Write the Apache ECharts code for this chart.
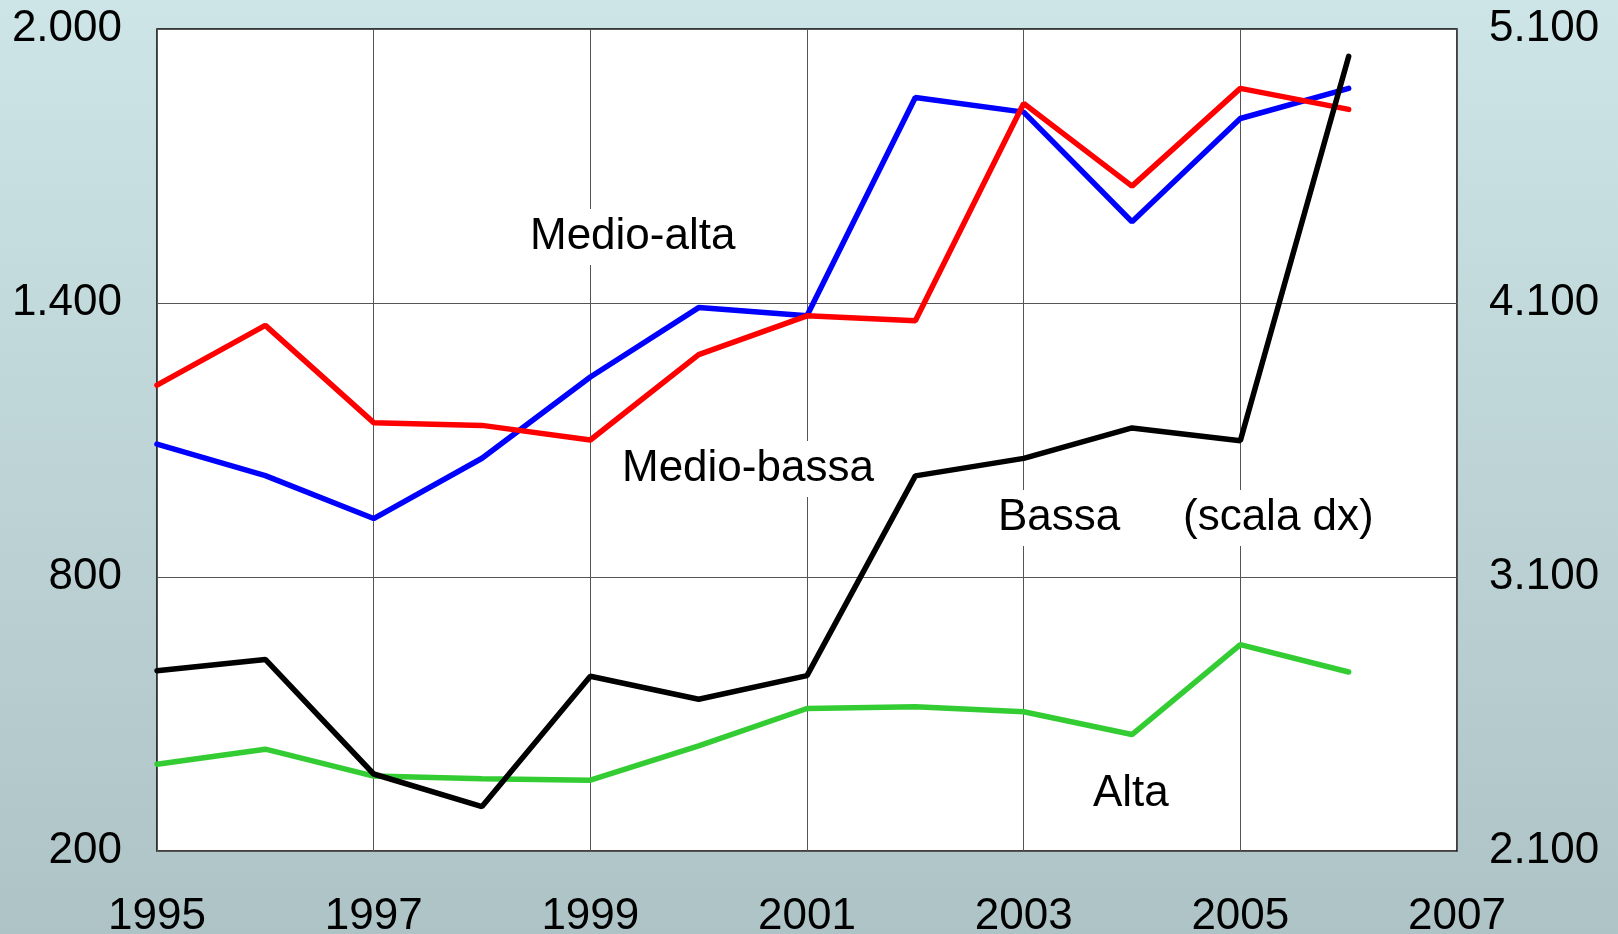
<!DOCTYPE html>
<html>
<head>
<meta charset="utf-8">
<script src="https://cdn.jsdelivr.net/npm/echarts@6/dist/echarts.min.js"></script>
<style>
html,body{margin:0;padding:0;width:1618px;height:934px;overflow:hidden;
background:linear-gradient(to bottom,#cde5e6 0%,#aec3c6 100%);}
#c{width:1618px;height:934px;}
</style>
</head>
<body>
<div id="c"></div>
<script>
const years = [1995,1996,1997,1998,1999,2000,2001,2002,2003,2004,2005,2006];
const medioAlta  = [1091,1022,928,1060,1238,1390,1372,1850,1818,1578,1804,1870];
const medioBassa = [1220,1351,1138,1132,1100,1287,1372,1361,1837,1656,1870,1824];
const alta       = [390,423,364,358,355,430,512,516,505,455,652,592];
const bassa      = [2758,2799,2381,2262,2738,2654,2740,3469,3533,3644,3597,5000];
const xTicks = [1995,1997,1999,2001,2003,2005,2007];
const leftTicks = [200,800,1400,2000];
const rightTicks = [2100,3100,4100,5100];
const seriesNames = ['Medio-alta','Medio-bassa','Alta','Bassa'];
const annotations = ['Medio-alta','Medio-bassa','Bassa','(scala dx)','Alta'];

function fmt(v){ return String(Math.round(v)).replace(/\B(?=(\d{3})+(?!\d))/g,'.'); }
function pairs(arr){ return arr.map((v,i)=>[years[i],v]); }

const FONT = '"Liberation Sans", Arial, sans-serif';
const chart = echarts.init(document.getElementById('c'), null, {renderer:'canvas'});
const lbl = (text, x, y) => ({
  type:'text', z:1, left:x, top:y,
  style:{text:text, font:'44px '+FONT, fill:'#000', backgroundColor:'#fff', padding:[6,4,6,4]}
});
chart.setOption({
  backgroundColor:'transparent',
  animation:false,
  grid:{left:157,right:161,top:29,bottom:83,show:true,backgroundColor:'#fff',borderColor:'#000',borderWidth:1.5,containLabel:false,outerBoundsMode:'none'},
  xAxis:{type:'value',min:xTicks[0],max:xTicks[xTicks.length-1],interval:2,
    axisLine:{show:false},axisTick:{show:false},
    axisLabel:{fontSize:44,fontFamily:FONT,color:'#000',margin:44,formatter:v=>String(v)},
    splitLine:{show:true,lineStyle:{color:'#555',width:1}}},
  yAxis:[
    {type:'value',min:leftTicks[0],max:leftTicks[leftTicks.length-1],interval:600,
     axisLine:{show:false},axisTick:{show:false},
     axisLabel:{fontSize:44,fontFamily:FONT,color:'#000',margin:35,formatter:fmt},
     splitLine:{show:true,lineStyle:{color:'#555',width:1}}},
    {type:'value',min:rightTicks[0],max:rightTicks[rightTicks.length-1],interval:1000,position:'right',
     axisLine:{show:false},axisTick:{show:false},
     axisLabel:{fontSize:44,fontFamily:FONT,color:'#000',margin:32,formatter:fmt},
     splitLine:{show:false}}
  ],
  series:[
    {name:seriesNames[0],type:'line',data:pairs(medioAlta),yAxisIndex:0,symbol:'none',z:3,lineStyle:{color:'#0000ff',width:5.5,cap:'round'}},
    {name:seriesNames[1],type:'line',data:pairs(medioBassa),yAxisIndex:0,symbol:'none',z:4,lineStyle:{color:'#ff0000',width:5.5,cap:'round'}},
    {name:seriesNames[2],type:'line',data:pairs(alta),yAxisIndex:0,symbol:'none',z:3,lineStyle:{color:'#33cc33',width:5.5,cap:'round'}},
    {name:seriesNames[3],type:'line',data:pairs(bassa),yAxisIndex:1,symbol:'none',z:5,lineStyle:{color:'#000000',width:5.5,cap:'round'}}
  ],
  graphic:[
    lbl(annotations[0],526,209),
    lbl(annotations[1],618,441),
    lbl(annotations[2],994,490),
    lbl(annotations[3],1179,490),
    lbl(annotations[4],1089,766)
  ]
});
</script>
</body>
</html>
